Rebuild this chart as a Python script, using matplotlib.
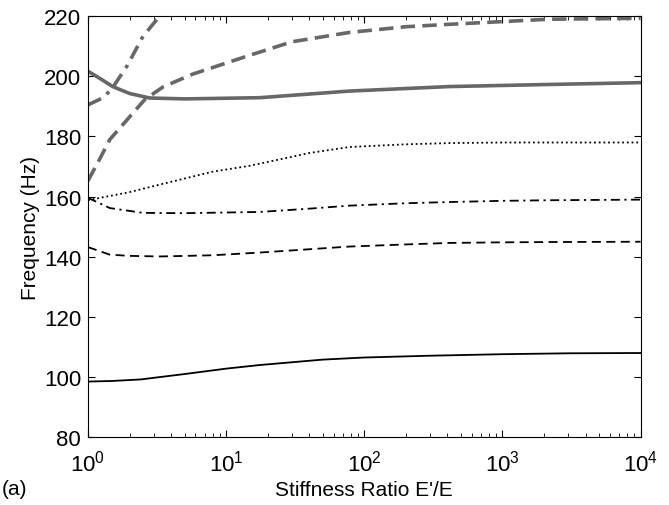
import numpy as np
import matplotlib
matplotlib.use("Agg")
import matplotlib.pyplot as plt

plt.rcParams['font.family'] = ['Liberation Sans', 'DejaVu Sans']

# valeurs (rapport de rigidite -> frequence en Hz)
r_m1 = [1, 1.5, 2.4, 5, 10, 17.5, 50, 100, 300, 1000, 3000, 10000]
f_m1 = [98.5, 98.7, 99.2, 101, 102.8, 104, 105.8, 106.5, 107.1, 107.6, 107.9, 108]

r_m2 = [1, 1.44, 2, 3.3, 8, 17.5, 40, 78, 200, 410, 1000, 2180, 10000]
f_m2 = [143.2, 140.7, 140.3, 140.1, 140.5, 141.4, 142.5, 143.4, 144.1, 144.6, 144.8, 144.9, 145]

r_m3 = [1, 1.44, 2.5, 5, 17.5, 40, 78, 200, 410, 1000, 2180, 10000]
f_m3 = [159.6, 156.2, 154.6, 154.5, 154.9, 156, 157, 157.8, 158.2, 158.6, 158.8, 159]

r_m4 = [1, 2, 3.3, 8, 15, 40, 78, 200, 410, 1000, 10000]
f_m4 = [158.8, 161.5, 164, 168.3, 170.3, 174.5, 176.5, 177.4, 177.8, 178, 178]

r_m5 = [1, 1.25, 1.51, 2, 2.8, 5, 17.5, 78, 410, 2180, 10000]
f_m5 = [201.7, 199, 196.6, 194.3, 192.8, 192.5, 192.9, 195.1, 196.6, 197.3, 197.9]

r_m6 = [1, 1.2, 1.44, 2, 2.58, 3.5, 5.7, 14.8, 30, 78, 200, 410, 2180, 10000]
f_m6 = [165.3, 172, 179, 186.5, 192.3, 196.5, 200.7, 207, 211.5, 214.6, 216.5, 217.3, 219, 219.3]

r_m7 = [1, 1.3, 1.51, 1.91, 2.5, 3.3, 4]
f_m7 = [190.5, 193, 196.3, 203.3, 213.3, 220, 226]

gris = '#676767'

fig = plt.figure(figsize=(6.69, 5.06), dpi=100)
ax = fig.add_axes([0.1315, 0.134, 0.826, 0.832])

ax.plot(r_m1, f_m1, color='black', lw=1.3, ls='-')
ax.plot(r_m2, f_m2, color='black', lw=1.3, ls=(0, (5, 3)))
ax.plot(r_m3, f_m3, color='black', lw=1.3, ls=(0, (5, 2.5, 1.2, 2.5)))
ax.plot(r_m4, f_m4, color='black', lw=1.3, ls=(0, (1, 1.6)))
ax.plot(r_m5, f_m5, color=gris, lw=2.6, ls='-')
ax.plot(r_m6, f_m6, color=gris, lw=2.6, ls=(0, (4, 2)))
ax.plot(r_m7, f_m7, color=gris, lw=2.6, ls=(0, (4, 2, 1, 2)))

ax.set_xscale('log')
ax.set_xlim(1, 1e4)
ax.set_ylim(80, 220)
ax.set_yticks(np.arange(80, 221, 20))

ax.tick_params(which='both', direction='in', top=True, right=True, labelsize=16)
ax.tick_params(which='major', length=5)
ax.tick_params(which='minor', length=3)
ax.tick_params(axis='x', pad=9)
ax.tick_params(axis='y', pad=5)

ax.set_xlabel("Stiffness Ratio E'/E", fontsize=15, labelpad=3)
ax.set_ylabel("Frequency (Hz)", fontsize=15, labelpad=3)

fig.text(0.003, 0.022, "(a)", fontsize=15)

fig.savefig('out.png', dpi=100)
